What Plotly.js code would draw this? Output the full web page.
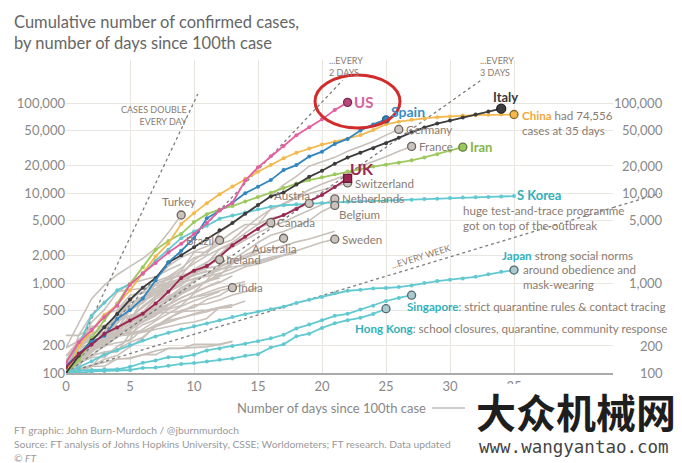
<!DOCTYPE html>
<html lang="en">
<head>
<meta charset="UTF-8">
<title>Cumulative number of confirmed cases</title>
<script src="https://cdn.plot.ly/plotly-3.0.1.min.js"></script>
<style>
    body { margin: 0; background: #fff; }
    #chart { width: 682px; height: 463px; }
</style>
</head>
<body>
<div id="chart"></div>
<script>
// cumulative cases, one value per day since the 100th case (day 0 first)
const us = [130, 220, 300, 420, 560, 959, 1281, 1663, 2179, 2726, 3499, 4632, 6421, 7783, 13747, 19273, 25600, 33276, 43847, 53740, 65778, 83836, 101657];
const spain = [120, 165, 222, 259, 400, 500, 673, 1073, 1695, 2277, 3146, 5232, 6391, 7798, 9942, 11748, 13910, 17963, 20410, 25374, 28768, 35136, 39885, 49515, 57786, 65719];
const italy = [100, 155, 229, 322, 453, 655, 888, 1128, 1694, 2036, 2502, 3089, 3858, 4636, 5883, 7375, 9172, 10149, 12462, 15113, 17660, 21157, 24747, 27980, 31506, 35713, 41035, 47021, 53578, 59138, 63927, 69176, 74386, 80589, 86498];
const china = [100, 198, 291, 440, 571, 830, 1287, 1975, 2744, 4515, 5974, 7711, 9692, 11791, 14380, 17205, 20438, 24324, 28018, 31161, 34546, 37198, 40171, 44000, 50000, 58000, 62000, 65000, 67500, 69500, 71000, 72400, 73300, 73900, 74300, 74556];
const iran = [100, 139, 245, 388, 593, 978, 1501, 2336, 2922, 3513, 4747, 5823, 6566, 7161, 8042, 9000, 10075, 11364, 12729, 13938, 14991, 16169, 17361, 18407, 19644, 20610, 21638, 23049, 24811, 27017, 29406, 32332];
const uk = [115, 164, 207, 273, 321, 382, 456, 590, 798, 1140, 1372, 1543, 1950, 2626, 3269, 3983, 5018, 5683, 6650, 8077, 9529, 11658, 14543];

const sKorea = [104, 204, 433, 602, 833, 977, 1261, 1766, 2337, 3150, 3736, 4335, 5186, 5621, 6088, 6593, 7041, 7314, 7478, 7513, 7755, 7869, 7979, 8086, 8162, 8236, 8320, 8413, 8565, 8652, 8799, 8897, 8961, 9037, 9137, 9241];
const japan = [100, 115, 135, 160, 180, 205, 230, 255, 280, 305, 330, 355, 385, 420, 450, 480, 510, 545, 600, 650, 700, 770, 820, 840, 870, 880, 900, 940, 1000, 1050, 1090, 1120, 1170, 1250, 1330, 1393];
const singapore = [102, 106, 108, 110, 110, 117, 130, 138, 150, 150, 160, 178, 187, 200, 212, 226, 243, 266, 313, 345, 385, 432, 455, 509, 558, 631, 683, 732];
const hongKong = [100, 100, 104, 105, 107, 108, 114, 115, 120, 126, 129, 134, 140, 145, 155, 162, 192, 208, 256, 273, 317, 356, 386, 410, 453, 518];

const germany = [130, 159, 196, 262, 482, 670, 799, 1040, 1176, 1457, 1908, 2078, 3675, 4585, 5795, 7272, 9257, 12327, 15320, 19848, 22213, 24873, 29056, 32986, 37323, 43938, 50871];
const france = [100, 130, 191, 204, 288, 380, 656, 959, 1136, 1219, 1794, 2293, 2876, 3661, 4469, 4499, 6633, 7652, 9043, 10871, 12612, 14282, 16018, 19856, 22304, 25233, 29155, 32964];
const switzerland = [114, 214, 268, 337, 374, 491, 652, 858, 1139, 1359, 2200, 2200, 2700, 3028, 4075, 5294, 6575, 7474, 8795, 9877, 10897, 11811, 12928];
const netherlands = [128, 188, 265, 321, 382, 503, 614, 804, 959, 1135, 1413, 1705, 2051, 2460, 2994, 3631, 4204, 4749, 5560, 6412, 7431, 8603];
const belgium = [109, 169, 200, 239, 267, 314, 399, 559, 689, 886, 1058, 1243, 1486, 1795, 2257, 2815, 3401, 3743, 4269, 4937, 6235, 7284];
const austria = [104, 131, 182, 246, 302, 504, 655, 860, 1018, 1332, 1646, 2013, 2388, 2814, 3582, 4474, 5283, 5588, 6909, 7657];
const canada = [108, 117, 193, 198, 252, 415, 478, 657, 800, 943, 1277, 1469, 2088, 2790, 3251, 4042, 4682];
const australia = [107, 128, 156, 200, 250, 297, 377, 452, 568, 681, 791, 1071, 1549, 1682, 2044, 2364, 2810, 3143];
const sweden = [101, 161, 203, 248, 355, 500, 599, 814, 961, 1022, 1103, 1190, 1279, 1439, 1639, 1763, 1934, 2046, 2286, 2526, 2840, 3069];
const turkey = [191, 359, 670, 947, 1236, 1529, 1872, 2433, 3629, 5698];
const brazil = [121, 200, 234, 291, 428, 621, 904, 1128, 1546, 1924, 2247, 2554, 2985];
const ireland = [110, 129, 169, 223, 292, 557, 683, 785, 906, 1125, 1329, 1564, 1819];
const india = [102, 113, 119, 142, 156, 194, 244, 330, 396, 499, 536, 657, 727, 887];

// unlabelled grey countries
const norway = [113, 147, 176, 205, 400, 598, 702, 996, 1090, 1221, 1333, 1463, 1550, 1746, 1914, 2118, 2385, 2621, 2863, 3084, 3369, 3755];
const denmark = [100, 264, 444, 617, 804, 836, 875, 933, 1025, 1116, 1225, 1337, 1420, 1514, 1572, 1718, 1862, 2023, 2200];
const israel = [126, 193, 213, 250, 304, 427, 529, 705, 883, 1071, 1238, 1656, 2369, 2693, 3035];
const czechia = [116, 141, 189, 253, 298, 396, 464, 694, 833, 995, 1120, 1236, 1394, 1654, 1925, 2279];
const malaysia = [117, 129, 149, 149, 197, 238, 428, 566, 673, 790, 900, 1030, 1183, 1306, 1518, 1624, 1796, 2031, 2161];
const ecuador = [155, 199, 367, 506, 789, 981, 1082, 1173, 1403, 1627];
const chile = [155, 201, 238, 238, 434, 537, 632, 746, 922, 1142, 1306, 1610];
const poland = [104, 125, 177, 238, 251, 355, 425, 536, 634, 749, 901, 1051, 1221, 1638];
const pakistan = [136, 236, 299, 454, 501, 730, 776, 875, 972, 1063, 1201, 1373];
const romania = [131, 158, 184, 260, 277, 308, 367, 433, 576, 762, 906, 1029, 1292];
const finland = [155, 225, 244, 277, 321, 336, 400, 450, 523, 626, 700, 792, 880, 958, 1041];
const greece = [190, 228, 331, 331, 387, 418, 418, 495, 530, 624, 695, 743, 821, 892, 966];
const saudiArabia = [103, 103, 118, 171, 171, 274, 344, 392, 511, 562, 767, 900, 1012, 1203];
const indonesia = [117, 134, 172, 227, 311, 369, 450, 514, 579, 686, 790, 893, 1046];
const thailand = [114, 147, 177, 212, 272, 322, 411, 599, 721, 827, 934, 1045, 1136];
const qatar = [262, 262, 320, 337, 401, 439, 452, 460, 470, 481, 494, 501, 526, 537];
const philippines = [140, 142, 187, 202, 217, 230, 307, 380, 462, 552, 636, 707, 803];
const iceland = [103, 134, 156, 171, 180, 220, 250, 330, 409, 473, 568, 588, 648, 737, 802, 890];
const slovenia = [141, 181, 219, 253, 275, 275, 286, 341, 383, 414, 442, 480, 528, 562, 632];
const russia = [114, 147, 199, 253, 306, 367, 438, 495, 658, 840, 1036];
const southAfrica = [116, 150, 202, 240, 274, 402, 554, 709, 927, 1170];
const egypt = [110, 150, 196, 196, 256, 285, 294, 327, 366, 402, 456, 495, 536];
const mexico = [118, 164, 203, 251, 316, 367, 405, 475, 585];
const estonia = [115, 171, 205, 225, 258, 267, 283, 306, 326, 352, 369, 404, 538, 575];
const kuwait = [104, 112, 123, 130, 142, 148, 159, 176, 188, 189, 191, 195, 208, 225];
const sanMarino = [109, 109, 119, 119, 144, 144, 160, 160, 187, 187, 208, 208, 208, 223];

const dayTicks = [0, 5, 10, 15, 20, 25, 30, 35];
const caseTicks = [100, 200, 500, 1000, 2000, 5000, 10000, 20000, 50000, 100000];
const caseLabels = ['100', '200', '500', '1,000', '2,000', '5,000', '10,000', '20,000', '50,000', '100,000'];
const rightTicks = [100, 200, 1000, 5000, 10000, 20000, 50000, 100000];
const rightLabels = ['100', '200', '1,000', '5,000', '10,000', '20,000', '50,000', '100,000'];

// doubling guides: days to double, and the day where each dotted line stops
const doubleEvery = [1, 2, 3, 7];
const guideEnd = [10.3, 21.6, 32.4, 46.4];

// plot box in pixels
const L = 66, R = 613, T = 60, B = 373;
const XMAX = (R - L) / 12.8;
const YMAX = 2 + (B - T) / 90;

const GREY = '#c8c0ba', BROWN = '#8a7c72', CYAN = '#62c9d1', TEAL = '#33b0ba';

const idx = a => a.map((_, i) => i);

function line(ys, color, width, dots) {
    return {
        x: idx(ys), y: ys, type: 'scatter',
        mode: dots ? 'lines+markers' : 'lines',
        line: { color: color, width: width },
        marker: { color: color, size: 4 },
        hoverinfo: 'skip'
    };
}

function endDot(ys, fill, edge, symbol, size) {
    const i = ys.length - 1;
    return {
        x: [i], y: [ys[i]], type: 'scatter', mode: 'markers',
        marker: { color: fill, size: size || 8, symbol: symbol || 'circle', line: { color: edge, width: 1.3 } },
        hoverinfo: 'skip', cliponaxis: false
    };
}

function endLabel(ys, text, o) {
    const i = ys.length - 1;
    return Object.assign({
        x: i, y: Math.log10(ys[i]), xref: 'x', yref: 'y',
        text: text, showarrow: false, xanchor: 'left', yanchor: 'middle',
        font: { size: 11.6, color: BROWN }
    }, o || {});
}

// pixel position -> paper coordinates (for text outside the plot)
const px = (x, y) => ({ x: (x - L) / (R - L), y: 1 - (y - T) / (B - T) });
// data position -> paper coordinates
const dp = (d, v) => ({ x: d / XMAX, y: (Math.log10(v) - 2) / (YMAX - 2) });

const traces = [];

[norway, denmark, israel, czechia, malaysia, ecuador, chile, poland, pakistan, romania,
 finland, greece, saudiArabia, indonesia, thailand, qatar, philippines, iceland, slovenia,
 russia, southAfrica, egypt, mexico, estonia, kuwait, sanMarino,
 germany, france, switzerland, netherlands, belgium, austria, canada, australia, sweden,
 turkey, brazil, ireland, india].forEach(s => traces.push(line(s, GREY, 1.6, false)));

doubleEvery.forEach((k, i) => {
    traces.push({
        x: [0, guideEnd[i]], y: [100, 100 * Math.pow(2, guideEnd[i] / k)],
        type: 'scatter', mode: 'lines', hoverinfo: 'skip',
        line: { color: '#7d7d7d', width: 1.3, dash: 'dot' }
    });
});

[hongKong, singapore, japan, sKorea].forEach(s => traces.push(line(s, CYAN, 1.8, true)));
traces.push(line(iran, '#9dc95c', 1.8, true));
traces.push(line(china, '#f3b94e', 1.8, true));
traces.push(line(italy, '#3c3c3c', 1.8, true));
traces.push(line(spain, '#2f86c0', 1.8, true));
traces.push(line(uk, '#9c2753', 1.9, true));
traces.push(line(us, '#e35f9f', 1.8, true));

[germany, france, switzerland, netherlands, belgium, austria, canada, australia, sweden,
 turkey, brazil, ireland, india].forEach(s => traces.push(endDot(s, '#c9c2bd', '#6b635e')));
[hongKong, singapore, japan].forEach(s => traces.push(endDot(s, '#a9c9cc', '#4f6a6e')));
traces.push(endDot(iran, '#9dc95c', '#5f7a3a'));
traces.push(endDot(china, '#f3b94e', '#8a6a2a'));
traces.push(endDot(italy, '#3c3c3c', '#222', 'circle', 9));
traces.push(endDot(spain, '#2f86c0', '#1d5f8a', 'circle', 7));
traces.push(endDot(uk, '#9c2753', '#6e1a3a', 'square', 8));
traces.push(endDot(us, '#b8457c', '#7a2d52', 'circle', 8));

const annotations = [
    endLabel(us, '<b>US</b>', { xshift: 4, font: { size: 15, color: '#d4649c' } }),
    endLabel(spain, '<b>Spain</b>', { xshift: 3, yshift: 8, font: { size: 14, color: '#3a8ec6' } }),
    endLabel(italy, '<b>Italy</b>', { xanchor: 'center', xshift: 4, yshift: 12, font: { size: 13, color: '#3a3a3a' } }),
    endLabel(china, "<b><span style='color:#f0a73a'>China</span></b> had 74,556<br>cases at 35 days", { xshift: 6, yshift: -9, align: 'left' }),
    endLabel(germany, 'Germany', { xshift: 5 }),
    endLabel(france, 'France', { xshift: 5 }),
    endLabel(iran, '<b>Iran</b>', { xshift: 5, font: { size: 13, color: '#86b548' } }),
    endLabel(uk, '<b>UK</b>', { xshift: 0, yshift: 10, font: { size: 16, color: '#9c2753' } }),
    endLabel(switzerland, 'Switzerland', { xshift: 5, yshift: -1 }),
    endLabel(netherlands, 'Netherlands', { xshift: 5 }),
    endLabel(belgium, 'Belgium', { xshift: 2, yshift: -9 }),
    endLabel(austria, 'Austria', { xanchor: 'right', xshift: 3, yshift: 8 }),
    endLabel(canada, 'Canada', { xshift: 4 }),
    endLabel(australia, 'Australia', { xanchor: 'center', xshift: -9, yshift: -10 }),
    endLabel(sweden, 'Sweden', { xshift: 5 }),
    endLabel(turkey, 'Turkey', { xanchor: 'center', xshift: -2, yshift: 13 }),
    endLabel(brazil, 'Brazil', { xanchor: 'right', xshift: -4 }),
    endLabel(ireland, 'Ireland', { xshift: 4 }),
    endLabel(india, 'India', { xshift: 4 }),
    endLabel(sKorea, '<b>S Korea</b>', { xshift: 1, yshift: 1, font: { size: 13, color: TEAL } }),
    endLabel(sKorea, 'huge test-and-trace programme<br>got on top of the outbreak', { xshift: -53, yshift: -22, align: 'left' }),
    endLabel(japan, "<b><span style='color:" + TEAL + "'>Japan</span></b> strong social norms", { xshift: -14, yshift: 15 }),
    endLabel(japan, 'around obedience and<br>mask-wearing', { xshift: 7, yshift: -7, align: 'left' }),
    endLabel(singapore, "<b><span style='color:" + TEAL + "'>Singapore</span></b>: strict quarantine rules &amp; contact tracing", { xshift: -7, yshift: -11 }),
    endLabel(hongKong, "<b><span style='color:" + TEAL + "'>Hong Kong</span></b>: school closures, quarantine, community response", { xshift: -33, yshift: -20 })
];

// guide captions
annotations.push(
    { x: 9.6, y: Math.log10(73000), xref: 'x', yref: 'y', text: 'CASES DOUBLE<br>EVERY DAY', showarrow: false,
      xanchor: 'right', align: 'right', font: { size: 9, color: BROWN } },
    { x: 21.9, y: YMAX - 0.07, xref: 'x', yref: 'y', text: '...EVERY<br>2 DAYS', showarrow: false,
      xanchor: 'center', align: 'left', font: { size: 9, color: BROWN } },
    { x: 33.7, y: YMAX - 0.07, xref: 'x', yref: 'y', text: '...EVERY<br>3 DAYS', showarrow: false,
      xanchor: 'center', align: 'left', font: { size: 9, color: BROWN } },
    { x: 27.7, y: Math.log10(100 * Math.pow(2, 27.7 / 7)) + 0.1, xref: 'x', yref: 'y', text: '...EVERY WEEK', showarrow: false,
      textangle: -17, font: { size: 9, color: BROWN } }
);

// right-hand axis labels
rightTicks.forEach((v, i) => annotations.push({
    x: 1, xshift: 52, y: Math.log10(v), xref: 'paper', yref: 'y', text: rightLabels[i],
    showarrow: false, xanchor: 'right', yanchor: 'middle', font: { size: 13, color: '#888' }
}));

// title, axis title, credits, watermark
const note = (p, text, font, xanchor) => ({
    x: p.x, y: p.y, xref: 'paper', yref: 'paper', text: text, showarrow: false,
    xanchor: xanchor || 'left', yanchor: 'middle', align: 'left', font: font
});
const pTitle = px(12, 10);
annotations.push(
    Object.assign(note(pTitle, 'Cumulative number of confirmed cases,<br>by number of days since 100th case',
        { size: 16.5, color: '#666' }), { yanchor: 'top' }),
    note(px(428, 408), 'Number of days since 100th case', { size: 13, color: '#888' }, 'right'),
    note(px(12, 430), 'FT graphic: John Burn-Murdoch / @jburnmurdoch', { size: 10.3, color: '#999' }),
    note(px(12, 444), 'Source: FT analysis of Johns Hopkins University, CSSE; Worldometers; FT research. Data updated', { size: 10.3, color: '#999' }),
    note(px(12, 458), '<i>© FT</i>', { size: 10.3, color: '#999' }),
    note(px(576, 411), '<b>大众机械网</b>', { family: 'Noto Sans CJK SC', size: 40, color: '#1e1e1e' }, 'center'),
    note(px(574, 447), 'www.wangyantao.com', { family: 'DejaVu Sans Mono', size: 17.5, color: '#444' }, 'center')
);

const e0 = px(315, 128), e1 = px(400, 75), a0 = px(432, 408), a1 = px(465, 408);
const w0 = dp(XMAX, 100 * Math.pow(2, XMAX / 7)), w1 = dp(guideEnd[3], 100 * Math.pow(2, guideEnd[3] / 7));
const box0 = px(466, 384), box1 = px(682, 463);
const shapes = [
    // week guide continues under the right-hand labels
    { type: 'line', xref: 'paper', yref: 'paper', x0: w0.x, y0: w0.y, x1: w1.x, y1: w1.y,
      line: { color: '#7d7d7d', width: 1.3, dash: 'dot' } },
    { type: 'circle', xref: 'paper', yref: 'paper', x0: e0.x, y0: e0.y, x1: e1.x, y1: e1.y,
      line: { color: '#d22b2b', width: 3 } },
    { type: 'line', xref: 'paper', yref: 'paper', x0: a0.x, y0: a0.y, x1: a1.x, y1: a1.y,
      line: { color: '#999', width: 1 } },
    // white panel behind the watermark
    { type: 'rect', xref: 'paper', yref: 'paper', x0: box0.x, y0: box0.y, x1: box1.x, y1: box1.y,
      fillcolor: '#fff', line: { width: 0 }, layer: 'above' }
];

const layout = {
    width: 682, height: 463,
    margin: { l: L, r: 682 - R, t: T, b: 463 - B },
    paper_bgcolor: '#fff', plot_bgcolor: '#fff',
    font: { family: 'Lato, sans-serif', color: '#888' },
    showlegend: false,
    xaxis: {
        range: [0, XMAX], tickvals: dayTicks, ticks: '',
        showgrid: true, gridcolor: '#e9e5e1', zeroline: false,
        showline: true, linecolor: '#aaa', linewidth: 2,
        tickfont: { size: 13, color: '#888' }
    },
    yaxis: {
        type: 'log', range: [2, YMAX], tickvals: caseTicks, ticktext: caseLabels, ticks: '',
        showgrid: true, gridcolor: '#e9e5e1', zeroline: false, showline: false,
        tickfont: { size: 13, color: '#888' }
    },
    annotations: annotations,
    shapes: shapes
};

Plotly.newPlot('chart', traces, layout, { displayModeBar: false, staticPlot: true });
</script>
</body>
</html>
